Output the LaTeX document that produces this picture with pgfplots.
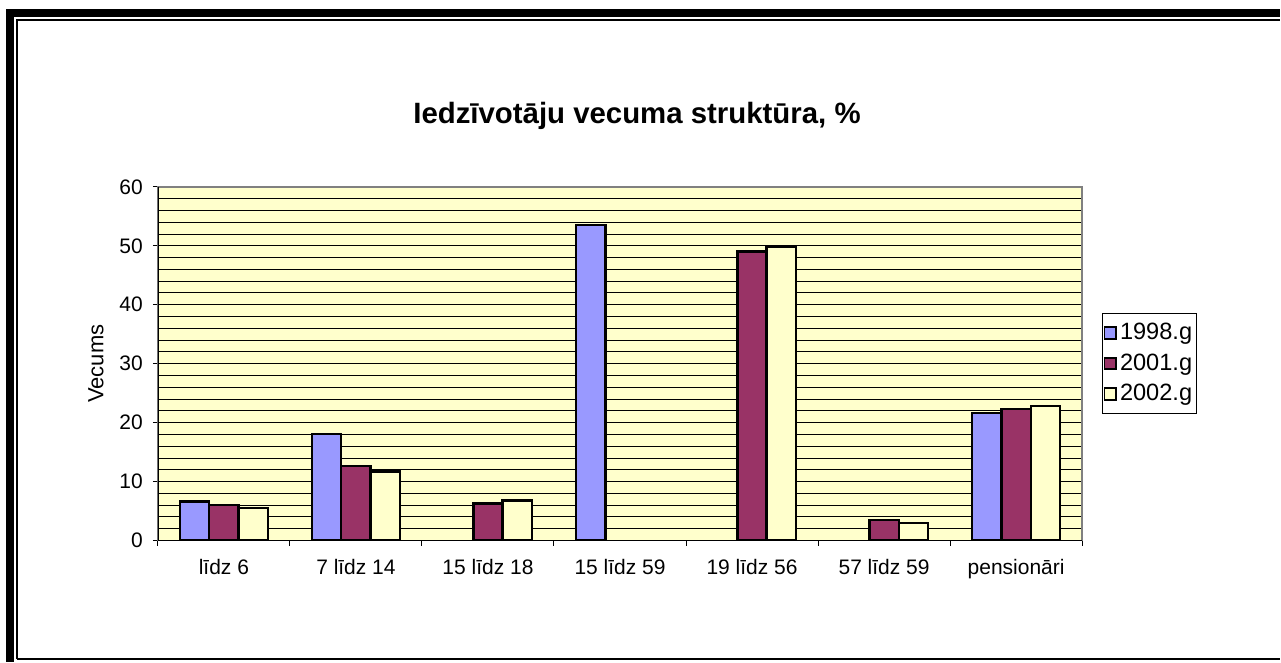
\documentclass[border=0pt]{standalone}
\usepackage{pgfplots}
\pgfplotsset{compat=1.18}
\usepackage{fontspec}
\setmainfont{Liberation Sans}
\definecolor{c98}{HTML}{9999FF}
\definecolor{c01}{HTML}{993366}
\definecolor{c02}{HTML}{FFFFCC}
\definecolor{plotbg}{HTML}{FFFFCC}
\begin{document}
\begin{tikzpicture}[x=0.5pt,y=0.5pt]
\path (0,0) rectangle (1281,663);
\fill[black] (6,0) rectangle (14,654);
\fill[black] (6,646) rectangle (1281,654);
\draw[line width=1pt] (17,3) -- (17,643) -- (1281,643);
\draw[line width=1pt] (17,3) -- (1281,3);
\begin{axis}[at={(79pt,61pt)}, anchor=south west, scale only axis,
  width=462.5pt, height=177pt,
  xmin=-0.5, xmax=6.5, ymin=0, ymax=60,
  ytick={0,10,...,60}, minor ytick={2,4,...,58},
  ymajorgrids, yminorgrids,
  major grid style={black, line width=0.5pt},
  minor grid style={black, line width=0.5pt},
  xtick={-0.5,0.5,...,6.5}, xticklabels={},
  extra x ticks={0,1,2,3,4,5,6},
  extra x tick labels={līdz 6, 7 līdz 14, 15 līdz 18, 15 līdz 59, 19 līdz 56, 57 līdz 59, pensionāri},
  extra x tick style={major tick length=0pt, grid=none},
  xtick pos=bottom, ytick pos=left,
  tick align=outside, major tick length=2.5pt, minor tick length=0pt,
  tick style={black, line width=0.5pt},
  axis line style={draw=gray, line width=0.7pt},
  axis background/.style={fill=plotbg},
  ybar=0pt, bar width=14.65pt,
  every axis plot/.append style={draw=black, line width=1.2pt},
  ticklabel style={font=\fontsize{10.5}{12}\selectfont},
  xticklabel style={yshift=-6pt},
  yticklabel style={xshift=-1.5pt},
  /pgf/number format/assume math mode=true,
  legend style={at={(1.0216,0.644)}, anchor=north west, draw=black, line width=0.5pt,
    font=\fontsize{11.8}{13.5}\selectfont, row sep=1.5pt, inner xsep=0.5pt, inner ysep=3pt,
    nodes={inner xsep=1.5pt}},
  legend cell align=left,
  legend image code/.code={\draw[#1, line width=0.9pt] (0pt,-2.9pt) rectangle (5.8pt,2.9pt);},
]
\addplot[fill=c98] coordinates {(0,6.6) (1,18.1) (3,53.5) (6,21.6)};
\addplot[fill=c01] coordinates {(0,6.0) (1,12.6) (2,6.3) (4,49.0) (5,3.5) (6,22.3)};
\addplot[fill=c02] coordinates {(0,5.5) (1,11.7) (2,6.8) (4,49.8) (5,3.0) (6,22.8)};
\legend{1998.g, 2001.g, 2002.g}
\draw[black, line width=0.7pt] (rel axis cs:0,1) -- (rel axis cs:0,0) -- (rel axis cs:1,0);
\end{axis}
\node[font=\bfseries\fontsize{14.7}{17}\selectfont, anchor=base] at (637.5,539) {Iedzīvotāju vecuma struktūra, \%};
\node[rotate=90, font=\fontsize{11}{13}\selectfont] at (96,299) {Vecums};
\end{tikzpicture}
\end{document}
